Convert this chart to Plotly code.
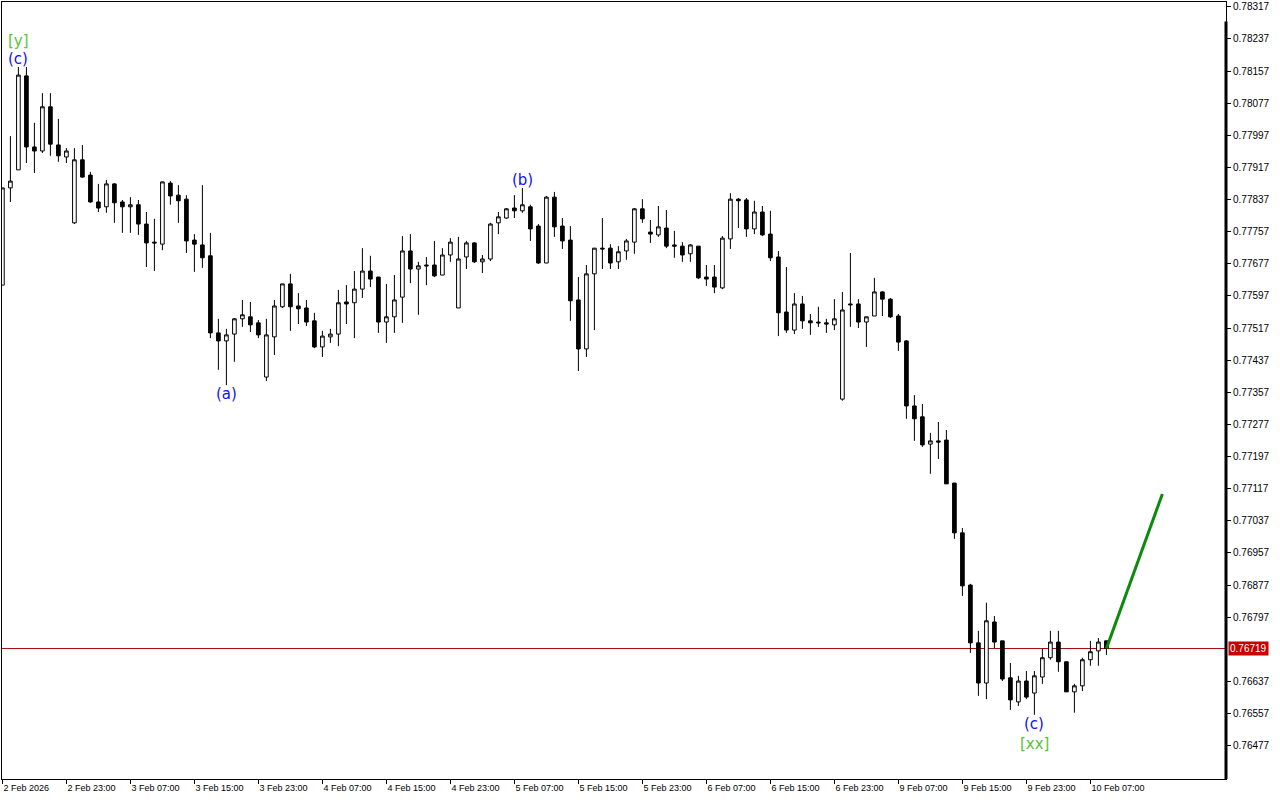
import plotly.graph_objects as go

# ---- data (hourly candles, 2 Feb 2026 15:00 .. 10 Feb 2026 09:00) ----
open_ = [
    0.77624, 0.77866, 0.77911, 0.78145, 0.77968, 0.77958, 0.78068, 0.77973, 0.77943, 0.77779,
    0.77936, 0.77898, 0.77831, 0.77819, 0.77876, 0.77831, 0.77819, 0.77824, 0.77776, 0.77731,
    0.77726, 0.77878, 0.77848, 0.77838, 0.77736, 0.77724, 0.77697, 0.77505, 0.77485, 0.77502,
    0.77540, 0.77545, 0.77530, 0.77395, 0.77495, 0.77570, 0.77627, 0.77572, 0.77567, 0.77535,
    0.77470, 0.77495, 0.77502, 0.77582, 0.77580, 0.77614, 0.77659, 0.77644, 0.77532, 0.77545,
    0.77594, 0.77709, 0.77664, 0.77674, 0.77674, 0.77649, 0.77699, 0.77567, 0.77694, 0.77729,
    0.77682, 0.77689, 0.77779, 0.77791, 0.77816, 0.77809, 0.77819, 0.77771, 0.77679, 0.77843,
    0.77771, 0.77736, 0.77587, 0.77465, 0.77652, 0.77716, 0.77716, 0.77682, 0.77709, 0.77731,
    0.77814, 0.77756, 0.77749, 0.77766, 0.77724, 0.77721, 0.77702, 0.77721, 0.77644, 0.77644,
    0.77617, 0.77739, 0.77838, 0.77836, 0.77764, 0.77806, 0.77751, 0.77694, 0.77557, 0.77512,
    0.77577, 0.77535, 0.77532, 0.77530, 0.77525, 0.77340, 0.77577, 0.77577, 0.77532, 0.77547,
    0.77607, 0.77589, 0.77547, 0.77485, 0.77323, 0.77296, 0.77228, 0.77236, 0.77238, 0.77131,
    0.77007, 0.76877, 0.76733, 0.76633, 0.76785, 0.76738, 0.76646, 0.76586, 0.76638, 0.76608,
    0.76648, 0.76696, 0.76735, 0.76686, 0.76611, 0.76626, 0.76691, 0.76713, 0.76738,
]
high = [
    0.77866, 0.77995, 0.78167, 0.78167, 0.78028, 0.78102, 0.78102, 0.78038, 0.77965, 0.77965,
    0.77973, 0.77906, 0.77876, 0.77886, 0.77878, 0.77836, 0.77843, 0.77836, 0.77806, 0.77789,
    0.77881, 0.77883, 0.77873, 0.77848, 0.77751, 0.77873, 0.77754, 0.77540, 0.77515, 0.77542,
    0.77587, 0.77582, 0.77537, 0.77540, 0.77587, 0.77627, 0.77652, 0.77604, 0.77587, 0.77555,
    0.77510, 0.77515, 0.77612, 0.77624, 0.77659, 0.77716, 0.77697, 0.77644, 0.77627, 0.77649,
    0.77746, 0.77751, 0.77682, 0.77694, 0.77734, 0.77716, 0.77741, 0.77744, 0.77734, 0.77731,
    0.77699, 0.77779, 0.77806, 0.77816, 0.77848, 0.77866, 0.77824, 0.77776, 0.77846, 0.77856,
    0.77791, 0.77771, 0.77644, 0.77674, 0.77716, 0.77791, 0.77726, 0.77721, 0.77739, 0.77816,
    0.77838, 0.77786, 0.77821, 0.77811, 0.77759, 0.77731, 0.77726, 0.77721, 0.77674, 0.77674,
    0.77746, 0.77853, 0.77841, 0.77841, 0.77834, 0.77821, 0.77809, 0.77709, 0.77669, 0.77604,
    0.77597, 0.77552, 0.77570, 0.77540, 0.77589, 0.77607, 0.77704, 0.77589, 0.77545, 0.77642,
    0.77609, 0.77592, 0.77552, 0.77487, 0.77350, 0.77328, 0.77256, 0.77283, 0.77263, 0.77131,
    0.77019, 0.76880, 0.76763, 0.76833, 0.76800, 0.76738, 0.76683, 0.76651, 0.76663, 0.76663,
    0.76718, 0.76763, 0.76763, 0.76686, 0.76631, 0.76696, 0.76738, 0.76745, 0.76738,
]
low = [
    0.77624, 0.77831, 0.77911, 0.77928, 0.77903, 0.77953, 0.77946, 0.77931, 0.77928, 0.77776,
    0.77891, 0.77829, 0.77806, 0.77804, 0.77779, 0.77754, 0.77754, 0.77749, 0.77669, 0.77659,
    0.77711, 0.77824, 0.77779, 0.77704, 0.77657, 0.77667, 0.77492, 0.77413, 0.77375, 0.77433,
    0.77520, 0.77507, 0.77492, 0.77385, 0.77450, 0.77567, 0.77510, 0.77527, 0.77522, 0.77467,
    0.77445, 0.77480, 0.77472, 0.77527, 0.77492, 0.77592, 0.77619, 0.77505, 0.77480, 0.77505,
    0.77530, 0.77629, 0.77550, 0.77624, 0.77644, 0.77649, 0.77682, 0.77567, 0.77664, 0.77679,
    0.77654, 0.77684, 0.77751, 0.77789, 0.77791, 0.77804, 0.77734, 0.77677, 0.77679, 0.77744,
    0.77714, 0.77535, 0.77410, 0.77445, 0.77512, 0.77664, 0.77664, 0.77664, 0.77687, 0.77702,
    0.77779, 0.77729, 0.77744, 0.77716, 0.77692, 0.77682, 0.77682, 0.77639, 0.77622, 0.77604,
    0.77614, 0.77714, 0.77766, 0.77744, 0.77751, 0.77746, 0.77684, 0.77497, 0.77505, 0.77502,
    0.77515, 0.77500, 0.77520, 0.77505, 0.77512, 0.77336, 0.77520, 0.77517, 0.77470, 0.77547,
    0.77547, 0.77542, 0.77460, 0.77291, 0.77236, 0.77221, 0.77154, 0.77191, 0.77129, 0.76992,
    0.76850, 0.76708, 0.76601, 0.76593, 0.76720, 0.76638, 0.76566, 0.76576, 0.76593, 0.76554,
    0.76631, 0.76691, 0.76661, 0.76611, 0.76559, 0.76613, 0.76676, 0.76676, 0.76703,
]
close = [
    0.77866, 0.77883, 0.78147, 0.77968, 0.77958, 0.78068, 0.77975, 0.77946, 0.77958, 0.77936,
    0.77893, 0.77831, 0.77816, 0.77876, 0.77829, 0.77819, 0.77824, 0.77776, 0.77729, 0.77729,
    0.77881, 0.77846, 0.77834, 0.77734, 0.77726, 0.77692, 0.77505, 0.77485, 0.77500, 0.77540,
    0.77550, 0.77525, 0.77500, 0.77500, 0.77572, 0.77627, 0.77570, 0.77565, 0.77532, 0.77470,
    0.77497, 0.77502, 0.77580, 0.77577, 0.77614, 0.77659, 0.77639, 0.77532, 0.77545, 0.77587,
    0.77709, 0.77664, 0.77672, 0.77672, 0.77647, 0.77699, 0.77731, 0.77689, 0.77729, 0.77682,
    0.77689, 0.77776, 0.77794, 0.77814, 0.77809, 0.77824, 0.77764, 0.77679, 0.77843, 0.77769,
    0.77734, 0.77585, 0.77465, 0.77652, 0.77716, 0.77714, 0.77679, 0.77707, 0.77734, 0.77814,
    0.77789, 0.77751, 0.77769, 0.77721, 0.77721, 0.77699, 0.77724, 0.77642, 0.77639, 0.77619,
    0.77741, 0.77838, 0.77834, 0.77764, 0.77806, 0.77749, 0.77692, 0.77555, 0.77512, 0.77577,
    0.77535, 0.77530, 0.77530, 0.77527, 0.77540, 0.77562, 0.77575, 0.77532, 0.77545, 0.77607,
    0.77589, 0.77545, 0.77482, 0.77323, 0.77291, 0.77226, 0.77236, 0.77233, 0.77129, 0.77007,
    0.76875, 0.76733, 0.76633, 0.76788, 0.76735, 0.76643, 0.76591, 0.76638, 0.76598, 0.76651,
    0.76696, 0.76735, 0.76686, 0.76611, 0.76626, 0.76691, 0.76711, 0.76735, 0.76719,
]

time_tick_bars = [0, 8, 16, 24, 32, 40, 48, 56, 64, 72, 80, 88, 96, 104, 112, 120, 128, 136]
time_tick_labels = [
    "2 Feb 2026", "2 Feb 23:00", "3 Feb 07:00", "3 Feb 15:00", "3 Feb 23:00",
    "4 Feb 07:00", "4 Feb 15:00", "4 Feb 23:00", "5 Feb 07:00", "5 Feb 15:00",
    "5 Feb 23:00", "6 Feb 07:00", "6 Feb 15:00", "6 Feb 23:00", "9 Feb 07:00",
    "9 Feb 15:00", "9 Feb 23:00", "10 Feb 07:00",
]
price_ticks = [0.78317, 0.78237, 0.78157, 0.78077, 0.77997, 0.77917, 0.77837, 0.77757,
               0.77677, 0.77597, 0.77517, 0.77437, 0.77357, 0.77277, 0.77197, 0.77117,
               0.77037, 0.76957, 0.76877, 0.76797, 0.76637, 0.76557, 0.76477]

# wave labels: (bar index, text, colour, above/below, extra offset)
wave_labels = [
    (2, "(c)", "#1010ff", "above", 0),
    (2, "[y]", "#55c633", "above", 18),
    (28, "(a)", "#1010ff", "below", 0),
    (65, "(b)", "#1010ff", "above", 0),
    (129, "(c)", "#1010ff", "below", 0),
    (129, "[xx]", "#55c633", "below", 20),
]

# projection line (bar index, price)
proj_x = [138, 145]
proj_y = [0.76719, 0.77104]

last_price = close[-1]
bars = list(range(len(close)))

fig = go.Figure()
fig.add_trace(go.Candlestick(
    x=bars, open=open_, high=high, low=low, close=close,
    increasing=dict(line=dict(color="black", width=1), fillcolor="white"),
    decreasing=dict(line=dict(color="black", width=1), fillcolor="black"),
    whiskerwidth=0, showlegend=False, hoverinfo="skip",
))
fig.add_trace(go.Scatter(
    x=proj_x, y=proj_y, mode="lines",
    line=dict(color="#0b8a0b", width=3), showlegend=False, hoverinfo="skip",
))

fig.add_shape(type="line", xref="paper", x0=0, x1=1, yref="y", y0=last_price, y1=last_price,
              line=dict(color="#a81010", width=1), layer="below")
fig.add_shape(type="line", xref="paper", x0=1, x1=1, yref="paper", y0=0, y1=0.975,
              line=dict(color="black", width=3))

annotations = []
for k, txt, col, pos, off in wave_labels:
    if pos == "above":
        annotations.append(dict(x=k, y=high[k], text=txt, showarrow=False, yanchor="bottom",
                                yshift=off - 3, font=dict(family="DejaVu Sans", size=15, color=col)))
    else:
        annotations.append(dict(x=k, y=low[k], text=txt, showarrow=False, yanchor="top",
                                yshift=2 - off, font=dict(family="DejaVu Sans", size=15, color=col)))
annotations.append(dict(
    xref="paper", x=1, xanchor="left", xshift=2, y=last_price, yanchor="middle",
    text=f"{last_price:.5f}", showarrow=False, bgcolor="#c80000", borderpad=1,
    font=dict(family="Liberation Sans", size=10, color="white"),
))

fig.update_layout(
    width=1280, height=800,
    margin=dict(l=2, r=54, t=2, b=21),
    paper_bgcolor="white", plot_bgcolor="white",
    boxgap=0.35,
    annotations=annotations,
    showlegend=False,
    xaxis=dict(
        range=[-0.05, 152.95], rangeslider=dict(visible=False),
        tickvals=time_tick_bars, ticktext=time_tick_labels,
        ticks="outside", ticklen=4, tickcolor="black",
        ticklabelposition="outside right",
        tickfont=dict(family="Liberation Sans", size=9, color="black"),
        showgrid=False, zeroline=False,
        showline=True, linecolor="black", linewidth=1, mirror=True,
    ),
    yaxis=dict(
        side="right", range=[0.76394, 0.78329],
        tickvals=price_ticks, tickformat=".5f",
        ticks="outside", ticklen=4, tickcolor="black",
        tickfont=dict(family="Liberation Sans", size=10, color="black"),
        showgrid=False, zeroline=False,
        showline=True, linecolor="black", linewidth=1, mirror=True,
    ),
)

fig.write_html("out.html", post_script="document.body.style.margin='0px';",
               config={"displayModeBar": False})
